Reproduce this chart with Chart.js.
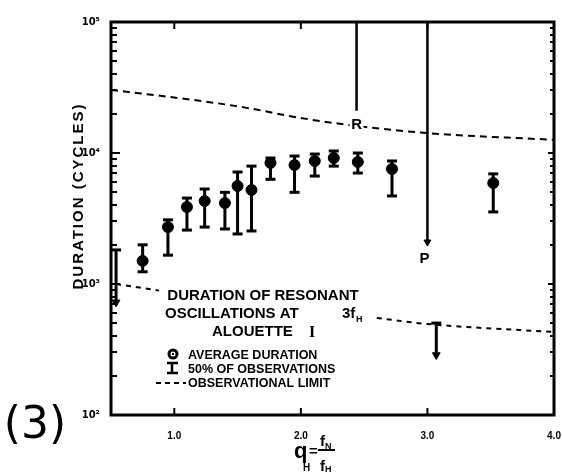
<!DOCTYPE html>
<html>
<head>
<meta charset="utf-8">
<script src="https://cdn.jsdelivr.net/npm/chart.js@4"></script>
<style>
  html, body { margin: 0; padding: 0; background: #fff; }
</style>
</head>
<body>
<canvas id="myChart" width="562" height="474"></canvas>
<script>
// average duration of the 3fH resonance vs q_H, with the 50% range of observations
var qValues     = [0.75, 0.95, 1.10, 1.24, 1.40, 1.50, 1.61, 1.76, 1.95, 2.11, 2.26, 2.45, 2.72, 3.52];
var avgDuration = [1500, 2720, 3870, 4300, 4150, 5600, 5220, 8400, 8090, 8690, 9160, 8540, 7550, 5900];
var upper50     = [1990, 3090, 4530, 5310, 5010, 7160, 7940, 9160, 9480, 9820, 10360, 10000, 8690, 6930];
var lower50     = [1240, 1660, 2580, 2720, 2630, 2410, 2540, 6300, 5010, 6670, 7940, 7030, 4700, 3550];

// cases bounded only from above (bar ends in an arrow)
var limitQ   = [0.54, 3.07];
var limitTop = [1820, 503];
var limitTip = [725, 287];

// observational limits (dashed)
var obsUpperQ = [0.5, 1.15, 1.54, 2.0, 2.44, 3.0, 4.0];
var obsUpper  = [30300, 25400, 22400, 18500, 16100, 14200, 12600];
var obsLowerQ = [0.54, 0.88, 1.8, 2.6, 3.0, 4.0];
var obsLower  = [1000, 890, null, 550, 495, 430];

// R and P resonance markers
var resonanceQ      = [2.44, 3.0];
var resonanceLabels = ['R', 'P'];
var resonanceEnd    = [21000, 2090];

var xTicks      = [1, 2, 3, 4];
var xTickLabels = ['1.0', '2.0', '3.0', '4.0'];
var yTicks      = [100, 1000, 10000, 100000];
var yTickLabels = ['10\u00b2', '10\u00b3', '10\u2074', '10\u2075'];

var yMax = 100000;

function toPts(xs, ys) {
    return xs.map(function (x, i) { return {x: x, y: ys[i]}; });
}
// vertical segments, broken apart with null points
function segments(xs, from, to) {
    var pts = [];
    xs.forEach(function (x, i) {
        pts.push({x: x, y: from[i]}, {x: x, y: to[i]}, {x: x, y: null});
    });
    return pts;
}

var BOLD = 'bold 15px "Liberation Sans", Arial, sans-serif';

const notes = {
    id: 'notes',
    afterDatasetsDraw(chart) {
        const ctx = chart.ctx, a = chart.chartArea;
        const x = chart.scales.x, y = chart.scales.y;
        function seg(x1, y1, x2, y2) {
            ctx.beginPath(); ctx.moveTo(x1, y1); ctx.lineTo(x2, y2); ctx.stroke();
        }
        ctx.save();
        ctx.strokeStyle = '#000';
        ctx.fillStyle = '#000';

        // frame
        ctx.lineWidth = 3;
        ctx.strokeRect(a.left, a.top, a.right - a.left, a.bottom - a.top);

        // inward ticks
        ctx.lineWidth = 2;
        for (var d = 100; d < yMax; d *= 10) {
            for (var m = 1; m < 10; m++) {
                var py = Math.round(y.getPixelForValue(m * d));
                seg(a.left, py, a.left + (m === 1 ? 9 : 6), py);
                seg(a.right, py, a.right - (m === 1 ? 6 : 4), py);
            }
        }
        xTicks.forEach(function (v) {
            var px = x.getPixelForValue(v);
            seg(px, a.bottom, px, a.bottom - 7);
            seg(px, a.top, px, a.top + 7);
        });

        // R / P labels
        ctx.font = BOLD;
        ctx.textAlign = 'center';
        ctx.textBaseline = 'middle';
        resonanceQ.forEach(function (q, i) {
            var px = x.getPixelForValue(q) - (i === 1 ? 3 : 0);
            var py = y.getPixelForValue(resonanceEnd[i]) + (i === 1 ? 17 : 14);
            ctx.fillStyle = '#fff';
            ctx.fillRect(px - 7, py - 8, 14, 16);
            ctx.fillStyle = '#000';
            ctx.fillText(resonanceLabels[i], px, py);
        });

        // y axis title
        ctx.save();
        ctx.translate(79, 196);
        ctx.rotate(-Math.PI / 2);
        ctx.font = 'bold 15px "Liberation Sans", Arial, sans-serif';
        ctx.letterSpacing = '2px';
        ctx.fillText('DURATION (CYCLES)', 0, 0);
        ctx.restore();

        // caption block
        ctx.textBaseline = 'alphabetic';
        ctx.font = BOLD;
        ctx.textAlign = 'center';
        ctx.fillText('DURATION OF RESONANT', 263, 300);
        ctx.textAlign = 'left';
        ctx.fillText('OSCILLATIONS AT', 165, 318);
        ctx.fillText('3f', 342, 318);
        ctx.font = 'bold 9px "Liberation Sans", Arial, sans-serif';
        ctx.fillText('H', 356, 322);
        ctx.font = BOLD;
        ctx.fillText('ALOUETTE', 212, 336);
        ctx.font = 'bold 16px "Liberation Serif", serif';
        ctx.fillText('I', 309, 337);

        // legend
        ctx.font = 'bold 12.5px "Liberation Sans", Arial, sans-serif';
        ctx.fillText('AVERAGE DURATION', 188, 359);
        ctx.fillText('50% OF OBSERVATIONS', 188, 373);
        ctx.fillText('OBSERVATIONAL LIMIT', 188, 387);
        ctx.lineWidth = 3;
        ctx.beginPath(); ctx.arc(173, 354, 4, 0, Math.PI * 2); ctx.stroke();
        ctx.fillRect(172, 353, 2, 2);
        ctx.lineWidth = 2.5;
        seg(172, 363, 172, 373);
        seg(167, 363, 178, 363);
        seg(167, 373, 178, 373);
        ctx.lineWidth = 2;
        ctx.setLineDash([5, 4]);
        seg(156, 383, 186, 383);
        ctx.setLineDash([]);

        // x axis title: q_H = f_N / f_H
        ctx.font = 'bold 22px "Liberation Sans", Arial, sans-serif';
        ctx.fillText('q', 294, 458);
        ctx.font = 'bold 10px "Liberation Sans", Arial, sans-serif';
        ctx.fillText('H', 303, 471);
        ctx.font = 'bold 15px "Liberation Sans", Arial, sans-serif';
        ctx.fillText('=', 309, 456);
        ctx.fillText('f', 320, 446);
        ctx.fillText('f', 320, 471);
        ctx.font = 'bold 9px "Liberation Sans", Arial, sans-serif';
        ctx.fillText('N', 325, 449);
        ctx.fillText('H', 325, 472);
        ctx.lineWidth = 2;
        seg(318, 450, 335, 450);

        // panel number
        ctx.font = '44px "DejaVu Sans", sans-serif';
        ctx.textAlign = 'center';
        ctx.textBaseline = 'middle';
        ctx.fillText('(3)', 35, 427);

        ctx.restore();
    }
};

const ctx = document.getElementById('myChart');
const myChart = new Chart(ctx, {
    type: 'scatter',
    data: {
        datasets: [
            {
                // upper observational limit
                data: toPts(obsUpperQ, obsUpper),
                showLine: true,
                borderColor: '#000',
                borderWidth: 2,
                borderDash: [7, 5],
                cubicInterpolationMode: 'monotone',
                pointRadius: 0
            },
            {
                // lower observational limit, broken by the caption
                data: toPts(obsLowerQ, obsLower),
                showLine: true,
                spanGaps: false,
                borderColor: '#000',
                borderWidth: 2,
                borderDash: [5, 5],
                cubicInterpolationMode: 'monotone',
                pointRadius: 0
            },
            {
                // R and P lines
                data: segments(resonanceQ, resonanceQ.map(function () { return yMax; }), resonanceEnd),
                showLine: true,
                spanGaps: false,
                borderColor: '#000',
                borderWidth: 2.5,
                pointRadius: 0
            },
            {
                // arrowhead on P
                data: toPts(resonanceQ.slice(1), resonanceEnd.slice(1)),
                pointStyle: 'triangle',
                rotation: 180,
                pointRadius: 4,
                pointBackgroundColor: '#000',
                pointBorderColor: '#000',
                pointBorderWidth: 1
            },
            {
                // 50% bars
                data: segments(qValues, lower50, upper50),
                showLine: true,
                spanGaps: false,
                borderColor: '#000',
                borderWidth: 3,
                pointRadius: 0
            },
            {
                // bar caps
                data: toPts(qValues, upper50).concat(toPts(qValues, lower50)),
                pointStyle: 'line',
                pointRadius: 5,
                pointBorderColor: '#000',
                pointBorderWidth: 3
            },
            {
                // upper-bounded cases
                data: segments(limitQ, limitTop, limitTip),
                showLine: true,
                spanGaps: false,
                borderColor: '#000',
                borderWidth: 3,
                pointRadius: 0
            },
            {
                data: toPts(limitQ, limitTop),
                pointStyle: 'line',
                pointRadius: 5,
                pointBorderColor: '#000',
                pointBorderWidth: 3
            },
            {
                data: toPts(limitQ, limitTip),
                pointStyle: 'triangle',
                rotation: 180,
                pointRadius: 4.5,
                pointBackgroundColor: '#000',
                pointBorderColor: '#000',
                pointBorderWidth: 1
            },
            {
                // average duration
                data: toPts(qValues, avgDuration),
                pointStyle: 'circle',
                pointRadius: 5.5,
                pointBackgroundColor: '#000',
                pointBorderColor: '#000',
                pointBorderWidth: 1
            }
        ]
    },
    options: {
        responsive: false,
        animation: false,
        layout: {
            padding: {top: 22, right: 6, left: 0, bottom: 0}
        },
        plugins: {
            legend: {display: false},
            tooltip: {enabled: false}
        },
        scales: {
            x: {
                type: 'linear',
                min: 0.5,
                max: 4.0,
                grid: {display: false},
                border: {display: false},
                afterBuildTicks: function (s) {
                    s.ticks = xTicks.map(function (v) { return {value: v}; });
                },
                afterFit: function (s) {
                    s.height = 59;
                    s.paddingLeft = 0;
                    s.paddingRight = 0;
                },
                ticks: {
                    color: '#000',
                    padding: 7,
                    maxRotation: 0,
                    font: {family: '"Liberation Sans", Arial, sans-serif', size: 10, weight: 'bold'},
                    callback: function (v) { return xTickLabels[xTicks.indexOf(v)]; }
                }
            },
            y: {
                type: 'logarithmic',
                min: 100,
                max: yMax,
                grid: {display: false},
                border: {display: false},
                afterBuildTicks: function (s) {
                    s.ticks = yTicks.map(function (v) { return {value: v}; });
                },
                afterFit: function (s) {
                    s.width = 111;
                    s.paddingTop = 0;
                    s.paddingBottom = 0;
                },
                ticks: {
                    color: '#000',
                    padding: 3,
                    font: {family: '"DejaVu Sans", sans-serif', size: 10, weight: 'bold'},
                    callback: function (v) { return yTickLabels[yTicks.indexOf(v)]; }
                }
            }
        }
    },
    plugins: [notes]
});
</script>
</body>
</html>
